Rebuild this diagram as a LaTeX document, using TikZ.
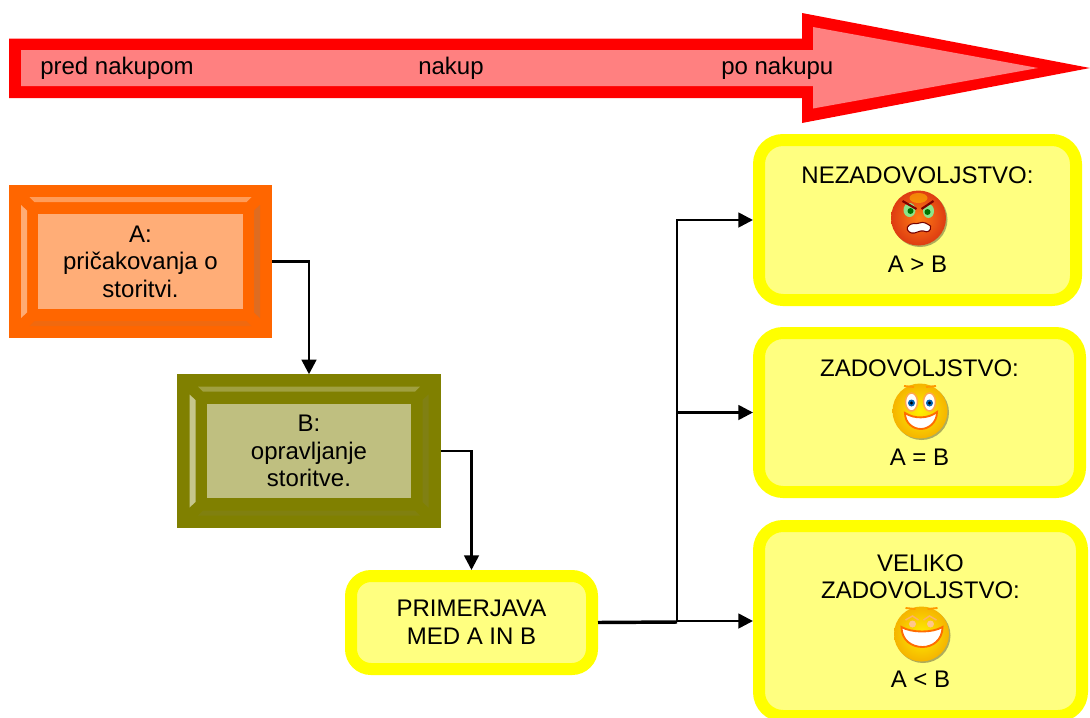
\documentclass[tikz,border=0pt]{standalone}
\usepackage{fontspec}
\setmainfont{Liberation Sans}
\usetikzlibrary{arrows.meta,positioning}

\definecolor{arrowred}{HTML}{FF0000}
\definecolor{arrowpink}{HTML}{FF8080}
\definecolor{boxyellow}{HTML}{FFFF00}
\definecolor{paleyellow}{HTML}{FFFF80}
\definecolor{boxorange}{HTML}{FF6600}
\definecolor{paleorange}{HTML}{FFAD77}
\definecolor{boxolive}{HTML}{808000}
\definecolor{paleolive}{HTML}{BFBF80}

% bevel strips round a framed node: node, top, left, right, bottom colour
\newcommand{\bevelstrips}[5]{
\begin{scope}[shift={(#1.center)}]
\fill[#2] (-111,-64.5) -- (111,-64.5) -- (106,-59.5) -- (-106,-59.5) -- cycle;
\fill[#5] (-111,64.5) -- (111,64.5) -- (106,59.5) -- (-106,59.5) -- cycle;
\fill[#3] (-119.5,-56.5) -- (-113.5,-51) -- (-113.5,51) -- (-119.5,56.5) -- cycle;
\fill[#4] (119.5,-56.5) -- (113.5,-51) -- (113.5,51) -- (119.5,56.5) -- cycle;
\end{scope}
}

\begin{document}
\begin{tikzpicture}
[x=0.75pt, y=-0.75pt, font=\fontsize{18}{20.7}\selectfont,
% STYLES
every node/.style={text=black, align=center},
label/.style={anchor=base west, inner sep=0},
% The frame style is used for the two bevelled boxes
frame/.style={rectangle, draw, line width=22.1pt, inner sep=0, minimum width=234*0.75pt, minimum height=124*0.75pt},
% Define styles for the yellow boxes
result/.style={rectangle, draw=boxyellow, fill=paleyellow, line width=9pt, rounded corners=18pt, inner sep=0},
link/.style={line width=2pt, -{Triangle[length=11pt,width=11pt]}},
% The faces are drawn round their own centre
angry face/.pic={
\fill[black!60!olive, opacity=.45] (1.5,1.5) circle (27.5);
\shade[inner color={rgb,255:red,255;green,125;blue,20}, outer color={rgb,255:red,222;green,60;blue,18}] (0,0) circle (27.5);
\fill[orange!60!yellow, opacity=.6] (0,-20) ellipse (9 and 5);
\fill[white!55!green!80!gray] (-9,-8) ellipse (6 and 7);
\fill[white!55!green!80!gray] (10,-7) ellipse (5.5 and 7);
\fill[green!45!black] (-8,-7) circle (3);
\fill[green!45!black] (9,-6) circle (3);
\draw[red!50!black, line width=1.6pt] (-16,-17) -- (-2,-9);
\draw[red!50!black, line width=1.6pt] (15,-17) -- (3,-9);
\draw[red!45!black, fill=white, line width=.8pt] (-11,9) .. controls (-6,3) and (-3,7) .. (1,5) .. controls (5,3) and (9,6) .. (12,8) .. controls (13,13) and (9,15) .. (5,13) .. controls (1,12) and (-3,16) .. (-7,15) .. controls (-10,14) and (-12,12) .. (-11,9) -- cycle;
},
happy face/.pic={
\fill[black!60!olive, opacity=.45] (1.5,1.5) circle (27.5);
\shade[inner color={rgb,255:red,255;green,240;blue,0}, outer color={rgb,255:red,245;green,180;blue,0}] (0,0) circle (27.5);
\draw[orange!80!yellow, line width=1.4pt] (-16,-25) -- (-6,-24);
\draw[orange!80!yellow, line width=1.4pt] (6,-24) -- (16,-25);
\foreach \eyex in {-8.5,9.5}{
\draw[orange!70!white, fill=white, line width=1.1pt] (\eyex,-9) ellipse (6 and 9);
\fill[blue!45!cyan!70!black] (\eyex,-8) circle (3.5);
\fill[black] (\eyex,-8) circle (1.7);
}
\draw[orange!85!red, fill=white, line width=1.4pt] (-15,2) .. controls (-6,8) and (8,8) .. (17,1) .. controls (17,12) and (8,18) .. (1,18) .. controls (-7,18) and (-15,12) .. (-15,2) -- cycle;
},
laugh face/.pic={
\fill[black!60!olive, opacity=.45] (1.5,1.5) circle (27.5);
\shade[inner color={rgb,255:red,255;green,240;blue,0}, outer color={rgb,255:red,245;green,180;blue,0}] (0,0) circle (27.5);
\draw[orange!80!yellow, line width=1.4pt] (-16,-26) -- (-6,-25);
\draw[orange!80!yellow, line width=1.4pt] (6,-25) -- (16,-26);
\draw[orange!60!white, line width=1.1pt] (-16,-14) -- (-9,-18) -- (-3,-14);
\draw[orange!60!white, line width=1.1pt] (2,-14) -- (8,-18) -- (15,-14);
\fill[orange!45!white] (-9,-10) circle (3.5);
\fill[orange!45!white] (9,-10) circle (3.5);
\draw[orange!85!red, fill=white, line width=1.4pt] (-20,-7) .. controls (-10,-1) and (11,-1) .. (21,-7) .. controls (21,6) and (11,13) .. (1,13) .. controls (-10,13) and (-20,6) .. (-20,-7) -- cycle;
}]

\clip (0,0) rectangle (1090,718);

% Time arrow
\fill[arrowred] (9,38.5) -- (802,38.5) -- (802,13) -- (1090,68) -- (802,123) -- (802,98) -- (9,98) -- cycle;
\fill[arrowpink] (21,50) -- (813,50) -- (813,27) -- (1038,68) -- (813,108.5) -- (813,86) -- (21,86) -- cycle;
\node [label] (pred) at (40,74) {pred nakupom};
\node [label] (nakup) at (418,74) {nakup};
\node [label] (ponakupu) at (721,74) {po nakupu};

% Bevelled boxes
\node [frame, draw=boxorange, fill=paleorange] (pricakovanja) at (140.5,261.5) {A:\\ pričakovanja o\\ storitvi.};
\node [frame, draw=boxolive, fill=paleolive] (opravljanje) at (309,451) {B:\\ opravljanje\\ storitve.};
\bevelstrips{pricakovanja}{boxorange!65!white}{boxorange!55!white}{boxorange!75!gray}{boxorange!88!gray}
\bevelstrips{opravljanje}{boxolive!75!white}{boxolive!45!white}{boxolive!85!gray}{boxolive!88!gray}

% Yellow boxes
\node [result, rounded corners=15pt, minimum width=241*0.75pt, minimum height=93*0.75pt] (primerjava) at (471.5,622.5) {PRIMERJAVA\\ MED A IN B};
\node [result, minimum width=317*0.75pt, minimum height=160*0.75pt] (nezadovoljstvo) at (917.5,220) {NEZADOVOLJSTVO:\\[46pt] A > B};
\node [result, minimum width=321*0.75pt, minimum height=159*0.75pt] (zadovoljstvo) at (919.5,412.5) {ZADOVOLJSTVO:\\[46pt] A = B};
\node [result, minimum width=323*0.75pt, minimum height=190*0.75pt] (veliko) at (920.5,621) {VELIKO\\ ZADOVOLJSTVO:\\[46pt] A < B};

\pic at (918.5,218) {angry face};
\pic at (920,411) {happy face};
\pic at (921.5,634) {laugh face};

%%%%%%%%%%%%%%%%

\coordinate (branch) at (677,622);

\draw[link] (pricakovanja.east) -| (opravljanje.north);
\draw[link] (opravljanje.east) -| (primerjava.north);
\draw[line width=2.6pt] (primerjava.east) -- (branch);
\draw[link] (branch) |- (nezadovoljstvo.west);
\draw[link] (branch) |- (zadovoljstvo.west);
\draw[link] (branch) |- (veliko.west);

\end{tikzpicture}
\end{document}
